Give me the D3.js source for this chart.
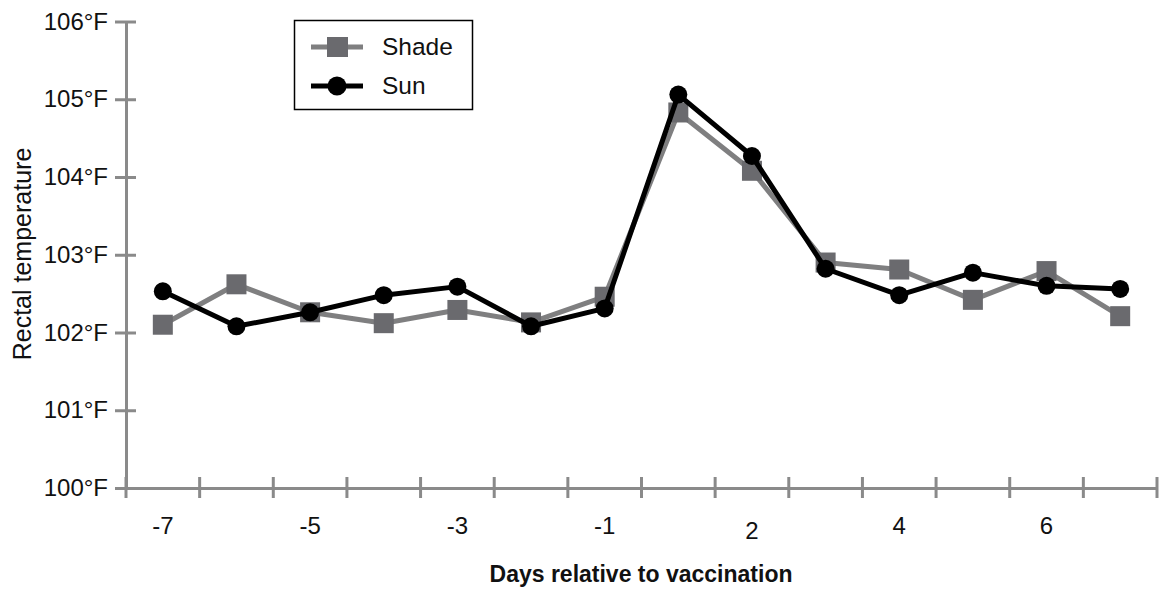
<!DOCTYPE html>
<html>
<head>
<meta charset="utf-8">
<script src="https://cdn.jsdelivr.net/npm/d3@7"></script>
<style>
  html, body { margin: 0; padding: 0; background: #fff; }
  svg { display: block; font-family: "Liberation Sans", Arial, Helvetica, sans-serif; }
</style>
</head>
<body>
<svg id="chart" width="1169" height="591"></svg>
<script>
const days = ["-7", "-6", "-5", "-4", "-3", "-2", "-1", "1", "2", "3", "4", "5", "6", "7"];
const dayLabels = ["-7", "", "-5", "", "-3", "", "-1", "", "2", "", "4", "", "6", ""];
const shade = [102.10, 102.62, 102.26, 102.12, 102.29, 102.13, 102.46, 104.83, 104.08, 102.90, 102.81, 102.42, 102.79, 102.21];
const sun   = [102.53, 102.08, 102.26, 102.48, 102.59, 102.08, 102.31, 105.06, 104.27, 102.82, 102.48, 102.77, 102.60, 102.56];
const yTicks = [100, 101, 102, 103, 104, 105, 106];
const seriesNames = ["Shade", "Sun"];

const svg = d3.select("#chart");
const axisColor = "#8a8a8a";
const shadeLine = "#7f7f80";
const shadeMark = "#6a6a6e";

const x = d3.scaleBand().domain(days).range([126, 1157]).padding(0);
const y = d3.scaleLinear().domain([100, 106]).range([488, 21.5]);
const cx = d => x(d) + x.bandwidth() / 2;

// Y axis
const yAxis = svg.append("g").attr("transform", "translate(126,0)")
  .call(d3.axisLeft(y).tickValues(yTicks).tickSize(0).tickPadding(18).tickFormat(d => d + "°F"));
yAxis.select(".domain").attr("stroke", axisColor).attr("stroke-width", 3);
yAxis.selectAll(".tick text").attr("font-size", 24).attr("fill", "#111").attr("font-family", "Liberation Sans, Arial, sans-serif");
yAxis.selectAll(".tick").append("line")
  .attr("x1", -11).attr("x2", 10).attr("y1", 0).attr("y2", 0)
  .attr("stroke", axisColor).attr("stroke-width", 3);

// X axis
const xAxis = svg.append("g").attr("transform", "translate(0,488)")
  .call(d3.axisBottom(x).tickSize(0).tickPadding(29).tickFormat((d, i) => dayLabels[i]));
xAxis.select(".domain").attr("stroke", axisColor).attr("stroke-width", 3);
xAxis.selectAll(".tick text").attr("font-size", 24).attr("fill", "#111").attr("font-family", "Liberation Sans, Arial, sans-serif")
  .attr("dy", d => d === "2" ? "0.92em" : "0.71em");
const edges = days.map(d => x(d)).concat([x.range()[1]]);
xAxis.selectAll("line.edge").data(edges).enter().append("line")
  .attr("class", "edge")
  .attr("x1", d => d).attr("x2", d => d).attr("y1", -11).attr("y2", 10)
  .attr("stroke", axisColor).attr("stroke-width", 3);

// Axis titles
svg.append("text").attr("x", 641).attr("y", 582).attr("text-anchor", "middle")
  .attr("font-size", 23).attr("font-weight", "bold").attr("fill", "#111")
  .text("Days relative to vaccination");
svg.append("text").attr("transform", "translate(31,254) rotate(-90)").attr("text-anchor", "middle")
  .attr("font-size", 25).attr("fill", "#111")
  .text("Rectal temperature");

// Shade series
const line = d3.line().x((d, i) => cx(days[i])).y(d => y(d));
svg.append("path").datum(shade).attr("d", line).attr("fill", "none")
  .attr("stroke", shadeLine).attr("stroke-width", 5).attr("stroke-linejoin", "round");
svg.selectAll("rect.shade").data(shade).enter().append("rect").attr("class", "shade")
  .attr("x", (d, i) => cx(days[i]) - 10).attr("y", d => y(d) - 10)
  .attr("width", 20).attr("height", 20).attr("fill", shadeMark);

// Sun series
svg.append("path").datum(sun).attr("d", line).attr("fill", "none")
  .attr("stroke", "#000").attr("stroke-width", 5).attr("stroke-linejoin", "round");
svg.selectAll("circle.sun").data(sun).enter().append("circle").attr("class", "sun")
  .attr("cx", (d, i) => cx(days[i])).attr("cy", d => y(d)).attr("r", 9).attr("fill", "#000");

// Legend
const lg = svg.append("g");
lg.append("rect").attr("x", 294.5).attr("y", 20.5).attr("width", 178).attr("height", 89)
  .attr("fill", "#fff").attr("stroke", "#000").attr("stroke-width", 1.5);
const rows = [47, 86];
seriesNames.forEach((name, i) => {
  const yy = rows[i];
  lg.append("line").attr("x1", 311).attr("x2", 363).attr("y1", yy).attr("y2", yy)
    .attr("stroke", i === 0 ? shadeLine : "#000").attr("stroke-width", 5);
  if (i === 0) {
    lg.append("rect").attr("x", 327).attr("y", yy - 10).attr("width", 21).attr("height", 20).attr("fill", shadeMark);
  } else {
    lg.append("circle").attr("cx", 337).attr("cy", yy).attr("r", 9.5).attr("fill", "#000");
  }
  lg.append("text").attr("x", 382).attr("y", yy + 8).attr("font-size", 24.5).attr("fill", "#111").text(name);
});
</script>
</body>
</html>
